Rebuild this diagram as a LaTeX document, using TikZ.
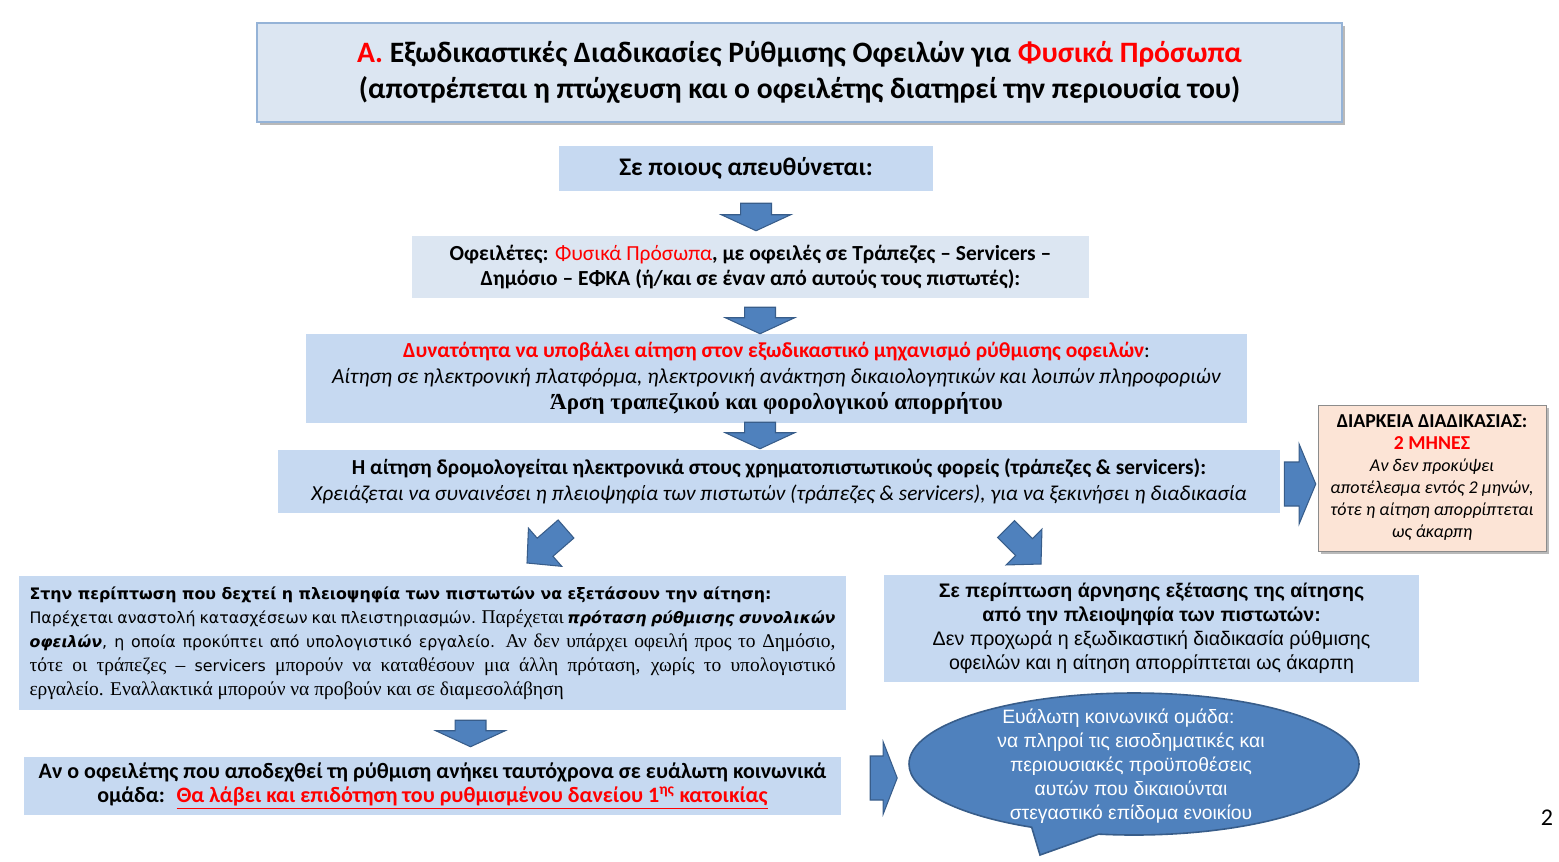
\documentclass[tikz,border=0pt]{standalone}
\usepackage{fontspec}
\setmainfont{Carlito}
\newfontfamily\tnr{Liberation Serif}
\newfontfamily\ars{Liberation Sans}
\newfontfamily\dvs{DejaVu Sans}
\usetikzlibrary{calc,shapes.callouts,shadows}

\definecolor{boxblue}{HTML}{C6D9F1}
\definecolor{boxpale}{HTML}{DCE6F2}
\definecolor{titleedge}{HTML}{95B3D7}
\definecolor{arrowblue}{HTML}{4F81BD}
\definecolor{arrowedge}{HTML}{385D8A}
\definecolor{peach}{HTML}{FCE4D6}
\definecolor{hlred}{HTML}{FF0000}

\tikzset{
  px/.style 2 args={minimum width=#1*0.75pt, minimum height=#2*0.75pt},
  panel/.style={fill=boxblue, inner sep=0pt, align=center},
  blockfill/.style={fill=arrowblue, draw=arrowedge, line width=.8pt, line join=miter},
  softshadow/.style={drop shadow={shadow xshift=2.5pt, shadow yshift=-2.5pt, opacity=.55}},
}

% block arrow: tail, tip, half shaft, half head, head length
\newcommand\blockarrow[5]{%
  \coordinate (h) at ($(#2)!#5!(#1)$);
  \filldraw[blockfill] ($(#1)!#3!90:(#2)$) -- ($(h)!#3!90:(#2)$) -- ($(h)!#4!90:(#2)$)
    -- (#2) -- ($(h)!#4!-90:(#2)$) -- ($(h)!#3!-90:(#2)$) -- ($(#1)!#3!-90:(#2)$) -- cycle;}
\newcommand\jline[1]{\makebox[604.5pt][s]{#1}}
\newcommand\sans{\dvs\fontsize{11.85}{18}\selectfont}

\begin{document}
\begin{tikzpicture}[x=0.75pt,y=-0.75pt,font=\fontsize{16}{19.5}\selectfont]
  \useasboundingbox (0,0) rectangle (1559,861);

  \node[panel, fill=boxpale, draw=titleedge, line width=1pt, softshadow, px={1085}{99},
        font=\bfseries\fontsize{22.2}{27}\selectfont] (title) at (799.5,72.5)
    {\textcolor{hlred}{Α.} Εξωδικαστικές Διαδικασίες Ρύθμισης Οφειλών για \textcolor{hlred}{Φυσικά Πρόσωπα}\\
     (αποτρέπεται η πτώχευση και ο οφειλέτης διατηρεί την περιουσία του)};

  \node[panel, px={374}{45}, font=\bfseries\fontsize{19}{22}\selectfont] (who) at (746,168.5)
    {Σε ποιους απευθύνεται:};

  \node[panel, fill=boxpale, px={677}{62}, font=\bfseries\fontsize{16.1}{18.75}\selectfont] (debt) at (750.5,267)
    {Οφειλέτες: \textcolor{hlred}{\mdseries Φυσικά Πρόσωπα}, με οφειλές σε Τράπεζες – Servicers –\\
     Δημόσιο – ΕΦΚΑ (ή/και σε έναν από αυτούς τους πιστωτές):};

  \node[panel, px={941}{89}, font=\fontsize{16.1}{19.5}\selectfont] (chance) at (776.5,378.5)
    {\textcolor{hlred}{\bfseries Δυνατότητα να υποβάλει αίτηση στον εξωδικαστικό μηχανισμό ρύθμισης οφειλών}:\\
     \textit{Αίτηση σε ηλεκτρονική πλατφόρμα, ηλεκτρονική ανάκτηση δικαιολογητικών και λοιπών πληροφοριών}\\
     {\tnr\bfseries\fontsize{17.2}{19}\selectfont Άρση τραπεζικού και φορολογικού απορρήτου}};

  \node[panel, px={1002}{63}, font=\fontsize{16}{19.5}\selectfont] (route) at (779,481.5)
    {\textbf{Η αίτηση δρομολογείται ηλεκτρονικά στους χρηματοπιστωτικούς φορείς (τράπεζες \& servicers):}\\
     \textit{Χρειάζεται να συναινέσει η πλειοψηφία των πιστωτών (τράπεζες \& servicers), για να ξεκινήσει η διαδικασία}};

  \node[panel, fill=peach, draw=black!45, softshadow, px={228}{146}, font=\fontsize{14.8}{16.5}\selectfont] (dur) at (1432,478)
    {\textbf{ΔΙΑΡΚΕΙΑ ΔΙΑΔΙΚΑΣΙΑΣ:}\\
     \textcolor{hlred}{\bfseries 2 ΜΗΝΕΣ}\\
     {\itshape\fontsize{13.5}{16.5}\selectfont Αν δεν προκύψει}\\
     {\itshape\fontsize{13.5}{16.5}\selectfont αποτέλεσμα εντός 2 μηνών,}\\
     {\itshape\fontsize{13.5}{16.5}\selectfont τότε η αίτηση απορρίπτεται}\\
     {\itshape\fontsize{13.5}{16.5}\selectfont ως άκαρπη}};

  \node[panel, px={827}{134}, align=left, font=\fontsize{14.6}{18}\selectfont] (accept) at (432.5,643)
    {{\sans\bfseries Στην περίπτωση που δεχτεί η πλειοψηφία των πιστωτών να εξετάσουν την αίτηση:}\\
     \jline{{\sans Παρέχεται αναστολή κατασχέσεων και πλειστηριασμών.} {\tnr Παρέχεται} {\sans\bfseries\itshape πρόταση ρύθμισης συνολικών}}\\
     \jline{{\sans\bfseries\itshape οφειλών}{\sans , η οποία προκύπτει από υπολογιστικό εργαλείο.} {\tnr Αν δεν υπάρχει οφειλή προς το Δημόσιο,}}\\
     \jline{\tnr τότε οι τράπεζες – {\sans servicers} μπορούν να καταθέσουν μια άλλη πρόταση, χωρίς το υπολογιστικό}\\
     {\tnr εργαλείο. Εναλλακτικά μπορούν να προβούν και σε διαμεσολάβηση}};

  \node[panel, px={535}{107}, font=\ars\fontsize{14.7}{18}\selectfont] (refuse) at (1151.5,628.5)
    {\textbf{Σε περίπτωση άρνησης εξέτασης της αίτησης}\\
     \textbf{από την πλειοψηφία των πιστωτών:}\\
     Δεν προχωρά η εξωδικαστική διαδικασία ρύθμισης\\
     οφειλών και η αίτηση απορρίπτεται ως άκαρπη};

  \node[panel, px={817}{58}, font=\bfseries\fontsize{16.5}{18}\selectfont] (vuln) at (432.5,786)
    {Αν ο οφειλέτης που αποδεχθεί τη ρύθμιση ανήκει ταυτόχρονα σε ευάλωτη κοινωνικά\\
     ομάδα:~ \textcolor{hlred}{\underline{Θα λάβει και επιδότηση του ρυθμισμένου δανείου 1\textsuperscript{ης} κατοικίας}}};

  \node[ellipse callout, fill=arrowblue, draw=arrowedge, line width=1.2pt, px={450}{142},
        callout absolute pointer={(1040,855)}, callout pointer arc=18] (bubble) at (1134,764) {};
  \node[align=center, text=white, font=\ars\fontsize{14.5}{18}\selectfont] (bubbletext) at (1131,766)
    {Ευάλωτη κοινωνικά ομάδα:\hspace*{19pt}\\
     να πληροί τις εισοδηματικές και\\
     περιουσιακές προϋποθέσεις\\
     αυτών που δικαιούνται\\
     στεγαστικό επίδομα ενοικίου};

  \node[font=\fontsize{18}{20}\selectfont] (page) at (1547,818) {2};

  \coordinate (t1) at ($(who.south)+(10,12)$);
  \coordinate (e1) at ($(debt.north)+(5.5,-5)$);
  \coordinate (t2) at ($(debt.south)+(9.5,9)$);
  \coordinate (e2) at ($(chance.north)+(-16.5,0)$);
  \coordinate (t3) at ($(chance.south)+(-16.5,-1)$);
  \coordinate (e3) at ($(route.north)+(-19,-1)$);
  \coordinate (t4) at ($(route.east)+(4,2.5)$);
  \coordinate (e4) at ($(dur.west)+(-2,6)$);
  \coordinate (t5) at (566,529);
  \coordinate (e5) at (527,563);
  \coordinate (t6) at (1006,529);
  \coordinate (e6) at (1041,564);
  \coordinate (t7) at ($(accept.south)+(38,10)$);
  \coordinate (e7) at ($(vuln.north)+(38,-10)$);
  \coordinate (t8) at ($(vuln.east)+(29,-8)$);
  \coordinate (e8) at ($(bubble.west)+(-11,14)$);

  \blockarrow{t1}{e1}{11.6pt}{26pt}{12pt}
  \blockarrow{t2}{e2}{11.6pt}{26pt}{12pt}
  \blockarrow{t3}{e3}{11.6pt}{26pt}{12pt}
  \blockarrow{t4}{e4}{16.5pt}{30pt}{12.5pt}
  \blockarrow{t5}{e5}{9pt}{19pt}{18pt}
  \blockarrow{t6}{e6}{9pt}{19pt}{18pt}
  \blockarrow{t7}{e7}{11.6pt}{26pt}{12pt}
  \blockarrow{t8}{e8}{16.5pt}{27pt}{10.5pt}
\end{tikzpicture}
\end{document}
